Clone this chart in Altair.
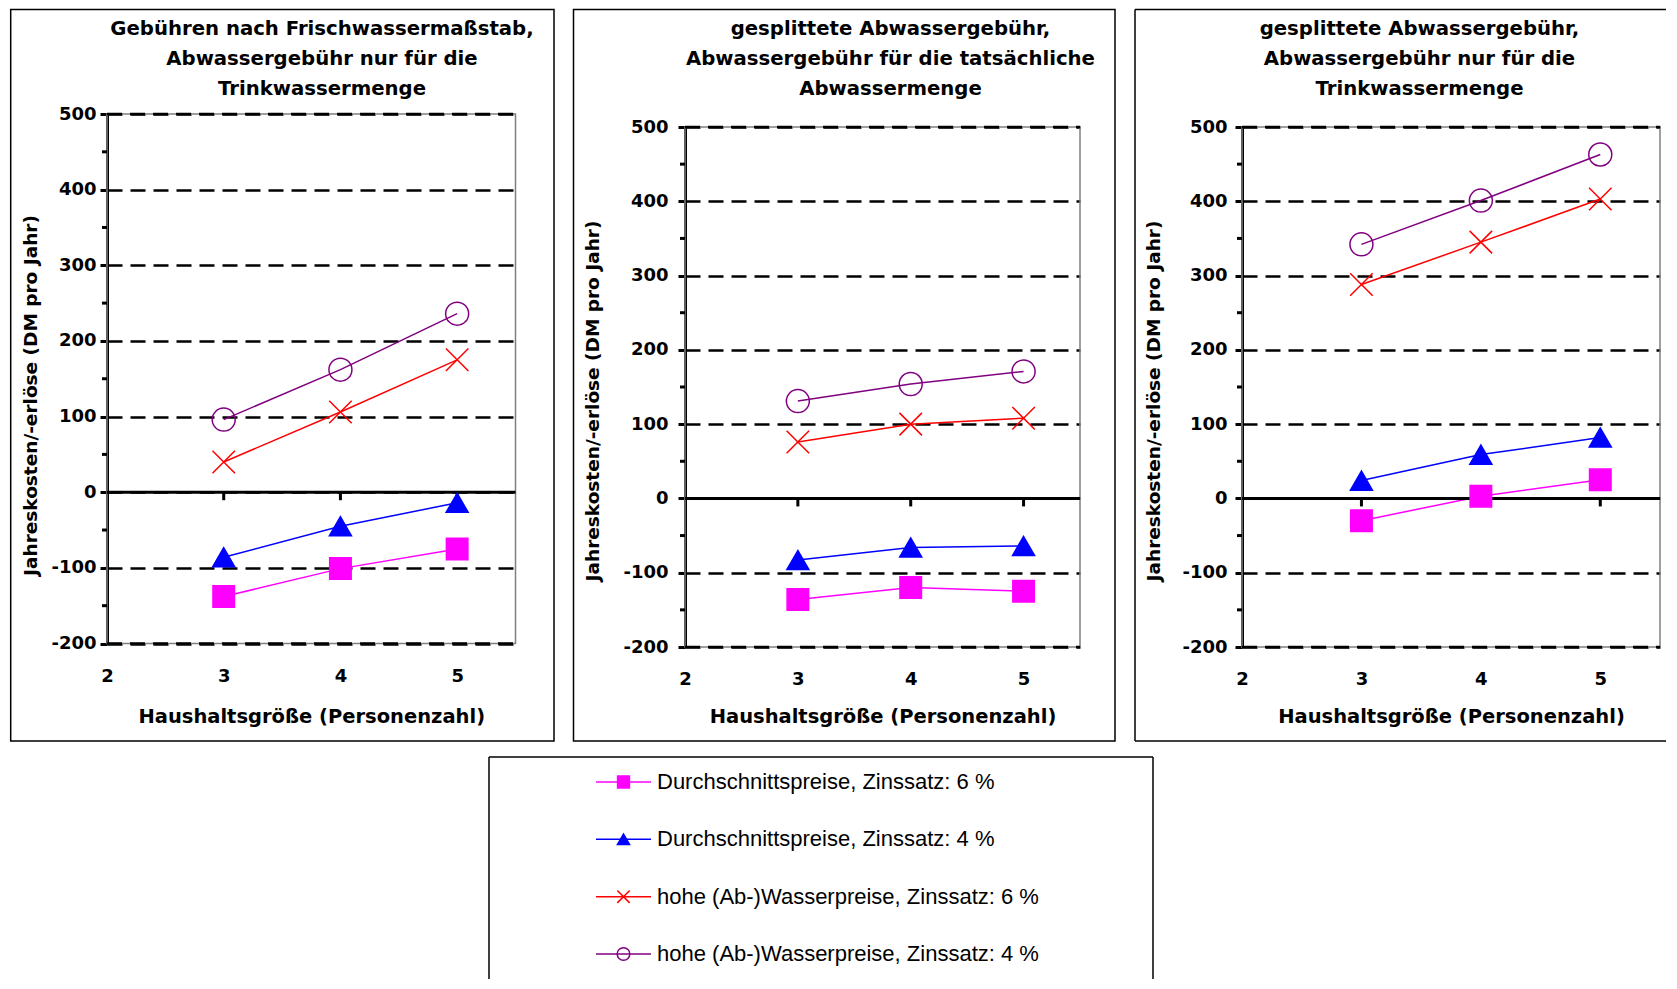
import altair as alt
import pandas as pd

# ---------------- data ----------------
sizes = [3, 4, 5]
series_names = [
    "Durchschnittspreise, Zinssatz: 6 %",
    "Durchschnittspreise, Zinssatz: 4 %",
    "hohe (Ab-)Wasserpreise, Zinssatz: 6 %",
    "hohe (Ab-)Wasserpreise, Zinssatz: 4 %",
]
colors = ["#FF00FF", "#0000FF", "#FF0000", "#800080"]
fills = ["#FF00FF", "#0000FF", "transparent", "transparent"]
shapes = ["square", "triangle-up", "M-1,-1L1,1M-1,1L1,-1", "circle"]

panel_titles = [
    ["Gebühren nach Frischwassermaßstab,", "Abwassergebühr nur für die", "Trinkwassermenge"],
    ["gesplittete Abwassergebühr,", "Abwassergebühr für die tatsächliche", "Abwassermenge"],
    ["gesplittete Abwassergebühr,", "Abwassergebühr nur für die", "Trinkwassermenge"],
]

p1_avg6 = [-138, -101, -75]
p1_avg4 = [-86, -45, -14]
p1_high6 = [40, 106, 175]
p1_high4 = [96, 162, 236]

p2_avg6 = [-136, -120, -125]
p2_avg4 = [-83, -66, -64]
p2_high6 = [76, 100, 108]
p2_high4 = [131, 154, 171]

p3_avg6 = [-30, 3, 25]
p3_avg4 = [24, 59, 82]
p3_high6 = [288, 345, 403]
p3_high4 = [342, 401, 463]

y_ticks = [-200, -100, 0, 100, 200, 300, 400, 500]
y_minor = [-150, -50, 50, 150, 250, 350, 450]
x_ticks = [2, 3, 4, 5]
x_title = "Haushaltsgröße (Personenzahl)"
y_title = "Jahreskosten/-erlöse (DM pro Jahr)"

BOLD = "DejaVu Sans"
one = pd.DataFrame({"k": [0]})


def panel(values, title_lines, W, H, ptop, box, right_edge, ylab_pad, ytx, yty, xty, xlab_pad, tx, ty):
    rows = []
    for name, vals in zip(series_names, values):
        for s, v in zip(sizes, vals):
            rows.append({"series": name, "hh": s, "value": v})
    df = pd.DataFrame(rows)

    xs = alt.Scale(domain=[2, 5.5], nice=False, zero=False)
    ys = alt.Scale(domain=[-200, 500], range=[H, ptop], nice=False, zero=False)

    xax = alt.Axis(values=x_ticks, title=x_title, labelExpr="'' + datum.value",
                   domain=False, ticks=False,
                   tickSize=0, grid=False, labelFont=BOLD, labelFontSize=18,
                   labelFontWeight="bold", labelColor="black", labelPadding=xlab_pad,
                   labelFlush=False, labelOverlap=False,
                   titleFont=BOLD, titleFontSize=19.5, titleFontWeight="bold",
                   titleColor="black", titleY=xty, titleBaseline="middle")
    yax = alt.Axis(values=y_ticks, title=y_title, labelExpr="'' + datum.value",
                   domain=True, domainColor="black",
                   domainWidth=3, ticks=True, tickColor="black", tickWidth=3, tickSize=7,
                   grid=True, gridColor="black", gridDash=[15, 8], gridWidth=2.5,
                   gridOpacity=1, labelFont=BOLD, labelFontSize=18, labelFontWeight="bold",
                   labelColor="black", labelPadding=ylab_pad, labelFlush=False,
                   labelOverlap=False, titleFont=BOLD, titleFontSize=18.5,
                   titleFontWeight="bold", titleColor="black", titleAngle=270,
                   titleAlign="center", titleBaseline="middle", titleX=ytx, titleY=yty)

    X = lambda f: alt.X(f, scale=xs, axis=xax)
    Y = lambda f: alt.Y(f, scale=ys, axis=yax)

    cscale = alt.Scale(domain=series_names, range=colors)

    plotbox = alt.Chart(one).mark_rect(fillOpacity=0, stroke="#808080", strokeWidth=1.5).encode(
        x=alt.value(0), x2=alt.value(W), y=alt.value(ptop), y2=alt.value(H))
    edges = alt.Chart(pd.DataFrame({"v": [y_ticks[0], y_ticks[-1]]})).mark_rule(
        color="black", strokeWidth=2.5, strokeDash=[15, 8]
    ).encode(y=Y("v:Q"), x=alt.value(0), x2=alt.value(W))

    lines = alt.Chart(df).mark_line(strokeWidth=1.5).encode(
        x=X("hh:Q"), y=Y("value:Q"),
        color=alt.Color("series:N", scale=cscale, legend=None),
        detail="series:N",
    )
    pts = alt.Chart(df).mark_point(opacity=1, strokeWidth=1.5).encode(
        x=X("hh:Q"), y=Y("value:Q"),
        shape=alt.Shape("series:N", scale=alt.Scale(domain=series_names, range=shapes), legend=None),
        stroke=alt.Stroke("series:N", scale=cscale, legend=None),
        fill=alt.Fill("series:N", scale=alt.Scale(domain=series_names, range=fills), legend=None),
        size=alt.Size("series:O", scale=alt.Scale(domain=series_names, range=[462, 529, 484, 441]), legend=None),
    )
    zero = alt.Chart(pd.DataFrame({"v": [0]})).mark_rule(strokeWidth=3, color="black").encode(
        y=Y("v:Q"), x=alt.value(0), x2=alt.value(W)
    )
    xt = alt.Chart(pd.DataFrame({"hh": sizes, "v": [0] * len(sizes)})).mark_tick(
        orient="vertical", size=8, thickness=3, yOffset=4, color="black", opacity=1
    ).encode(x=X("hh:Q"), y=Y("v:Q"))
    minor = alt.Chart(pd.DataFrame({"v": y_minor})).mark_rule(strokeWidth=3, color="black").encode(
        y=Y("v:Q"), x=alt.value(-5), x2=alt.value(0)
    )
    title = alt.Chart(one).mark_text(
        text=title_lines, font=BOLD, fontSize=19.7, fontWeight="bold", lineHeight=30,
        align="center", baseline="top", color="black"
    ).encode(x=alt.value(tx), y=alt.value(ty))

    bx1, bx2, by1, by2 = box
    if right_edge:
        frame = [alt.Chart(one).mark_rect(fillOpacity=0, stroke="black", strokeWidth=1.5).encode(
            x=alt.value(bx1), x2=alt.value(bx2), y=alt.value(by1), y2=alt.value(by2))]
    else:
        frame = [
            alt.Chart(one).mark_rule(stroke="black", strokeWidth=1.5).encode(
                x=alt.value(bx1), x2=alt.value(bx2), y=alt.value(by1)),
            alt.Chart(one).mark_rule(stroke="black", strokeWidth=1.5).encode(
                x=alt.value(bx1), x2=alt.value(bx2), y=alt.value(by2)),
            alt.Chart(one).mark_rule(stroke="black", strokeWidth=1.5).encode(
                x=alt.value(bx1), y=alt.value(by1), y2=alt.value(by2)),
        ]

    return alt.layer(plotbox, edges, lines, zero, xt, minor, pts, title, *frame).properties(
        width=W, height=H,
        view=alt.ViewBackground(stroke="transparent"),
    )


# all panels share the same group origin (plot top of panels 2 and 3)
W1, H1, T1 = 408.5, 516.5, -13
W2, H2 = 395, 520
W3, H3 = 418, 520

c1 = panel([p1_avg6, p1_avg4, p1_high6, p1_high4], panel_titles[0], W1, H1, T1,
           (-96.3, W1 + 38.5, -117.5, 614), True,
           4, -77, 268, 72.5, 24, 215, -107.7)
c2 = panel([p2_avg6, p2_avg4, p2_high6, p2_high4], panel_titles[1], W2, H2, 0,
           (-111.5, W2 + 35, -117.5, 614), True,
           10, -92.5, 273.5, 69, 23, 205.5, -107.7)
c3 = panel([p3_avg6, p3_avg4, p3_high6, p3_high4], panel_titles[2], W3, H3, 0,
           (-107, W3 + 6, -117.5, 614), False,
           8, -88.5, 273.5, 69, 23, 177.5, -107.7)

top = alt.hconcat(c1, c2, c3, spacing=16).resolve_scale(x="independent", y="independent")

# ---------------- legend ----------------
LH = 222
leg_df = pd.DataFrame({"series": series_names})
ly = alt.Y("series:N", scale=alt.Scale(type="point", domain=series_names, range=[25, 197], padding=0), axis=None)
lcs = alt.Scale(domain=series_names, range=colors)

leg_lines = alt.Chart(leg_df).mark_rule(strokeWidth=1.5).encode(
    y=ly, x=alt.value(489), x2=alt.value(544),
    color=alt.Color("series:N", scale=lcs, legend=None),
)
leg_pts = alt.Chart(leg_df).mark_point(opacity=1, strokeWidth=1.5).encode(
    y=ly, x=alt.value(516.5),
    shape=alt.Shape("series:N", scale=alt.Scale(domain=series_names, range=shapes), legend=None),
    stroke=alt.Stroke("series:N", scale=lcs, legend=None),
    fill=alt.Fill("series:N", scale=alt.Scale(domain=series_names, range=fills), legend=None),
    size=alt.Size("series:O", scale=alt.Scale(domain=series_names, range=[140, 160, 130, 100]), legend=None),
)
leg_text = alt.Chart(leg_df).mark_text(
    align="left", baseline="middle", font="Liberation Sans", fontSize=22, color="black"
).encode(y=ly, x=alt.value(550), text="series:N")
leg_box = [
    alt.Chart(one).mark_rule(stroke="black", strokeWidth=1.5).encode(
        x=alt.value(382), x2=alt.value(1046), y=alt.value(0)),
    alt.Chart(one).mark_rule(stroke="black", strokeWidth=1.5).encode(
        x=alt.value(382), y=alt.value(0), y2=alt.value(LH)),
    alt.Chart(one).mark_rule(stroke="black", strokeWidth=1.5).encode(
        x=alt.value(1046), y=alt.value(0), y2=alt.value(LH)),
]
legend = alt.layer(leg_lines, leg_pts, leg_text, *leg_box).properties(
    width=1100, height=LH,
    view=alt.ViewBackground(stroke="transparent"),
)

chart = alt.vconcat(top, legend, spacing=12).resolve_scale(
    x="independent", y="independent", size="independent",
    shape="independent", color="independent", fill="independent", stroke="independent",
).properties(
    padding={"left": 1, "top": 0, "right": 0, "bottom": 0},
    background="white",
)

chart.save("out.html", embed_options={"renderer": "svg", "actions": False})
